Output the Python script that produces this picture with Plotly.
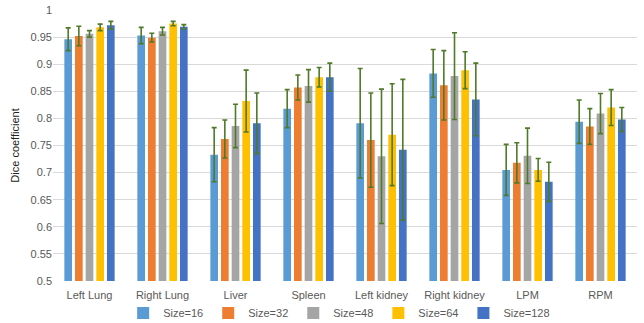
import plotly.graph_objects as go

categories = ["Left Lung", "Right Lung", "Liver", "Spleen", "Left kidney", "Right kidney", "LPM", "RPM"]
series_names = ["Size=16", "Size=32", "Size=48", "Size=64", "Size=128"]

size16 = [0.946, 0.953, 0.733, 0.818, 0.791, 0.883, 0.705, 0.794]
size32 = [0.952, 0.949, 0.762, 0.857, 0.760, 0.861, 0.718, 0.785]
size48 = [0.956, 0.961, 0.786, 0.860, 0.730, 0.878, 0.731, 0.809]
size64 = [0.968, 0.975, 0.832, 0.876, 0.770, 0.889, 0.705, 0.820]
size128 = [0.972, 0.969, 0.791, 0.876, 0.742, 0.835, 0.683, 0.798]

err16 = [0.021, 0.015, 0.050, 0.035, 0.101, 0.044, 0.047, 0.040]
err32 = [0.018, 0.008, 0.035, 0.023, 0.087, 0.064, 0.037, 0.033]
err48 = [0.006, 0.007, 0.040, 0.030, 0.124, 0.080, 0.051, 0.037]
err64 = [0.006, 0.004, 0.057, 0.018, 0.094, 0.034, 0.021, 0.033]
err128 = [0.007, 0.004, 0.056, 0.026, 0.130, 0.067, 0.036, 0.022]

y_tick_values = [0.5, 0.55, 0.6, 0.65, 0.7, 0.75, 0.8, 0.85, 0.9, 0.95, 1.0]
y_tick_labels = ["0.5", "0.55", "0.6", "0.65", "0.7", "0.75", "0.8", "0.85", "0.9", "0.95", "1"]

colors = ["#5B9BD5", "#ED7D31", "#A5A5A5", "#FFC000", "#4472C4"]
values = [size16, size32, size48, size64, size128]
errors = [err16, err32, err48, err64, err128]

fig = go.Figure()
for name, vals, errs, col in zip(series_names, values, errors, colors):
    fig.add_trace(go.Bar(
        name=name, x=categories, y=vals, marker_color=col, marker_line_width=0,
        error_y=dict(type="data", array=errs, visible=True, color="#4F7A28", thickness=1.6, width=2.5),
    ))

font_family = "Liberation Sans, Arial, sans-serif"
fig.update_layout(
    barmode="group", bargap=0.27, bargroupgap=0.28,
    width=644, height=323,
    margin=dict(l=53, r=7, t=10, b=42, autoexpand=False),
    paper_bgcolor="white", plot_bgcolor="white",
    font=dict(family=font_family, size=11, color="#595959"),
    legend=dict(orientation="h", x=0.49, xanchor="center", y=-0.118, yanchor="middle",
                bgcolor="rgba(0,0,0,0)", font=dict(size=11, color="#595959"),
                itemwidth=30, tracegroupgap=0),
    yaxis=dict(range=[0.5, 1.0], tickvals=y_tick_values, ticktext=y_tick_labels,
               showgrid=True, gridcolor="#D9D9D9", gridwidth=1, zeroline=False,
               title=dict(text="Dice coefficient", font=dict(size=11, color="#222222"), standoff=8),
               ticks="", ticklen=0),
    xaxis=dict(showgrid=False, ticks="", showline=False, ticklabelstandoff=6,
               tickfont=dict(size=11, color="#595959")),
)

fig.write_html("out.html", config={"displayModeBar": False},
               post_script="document.body.style.margin='0';")
